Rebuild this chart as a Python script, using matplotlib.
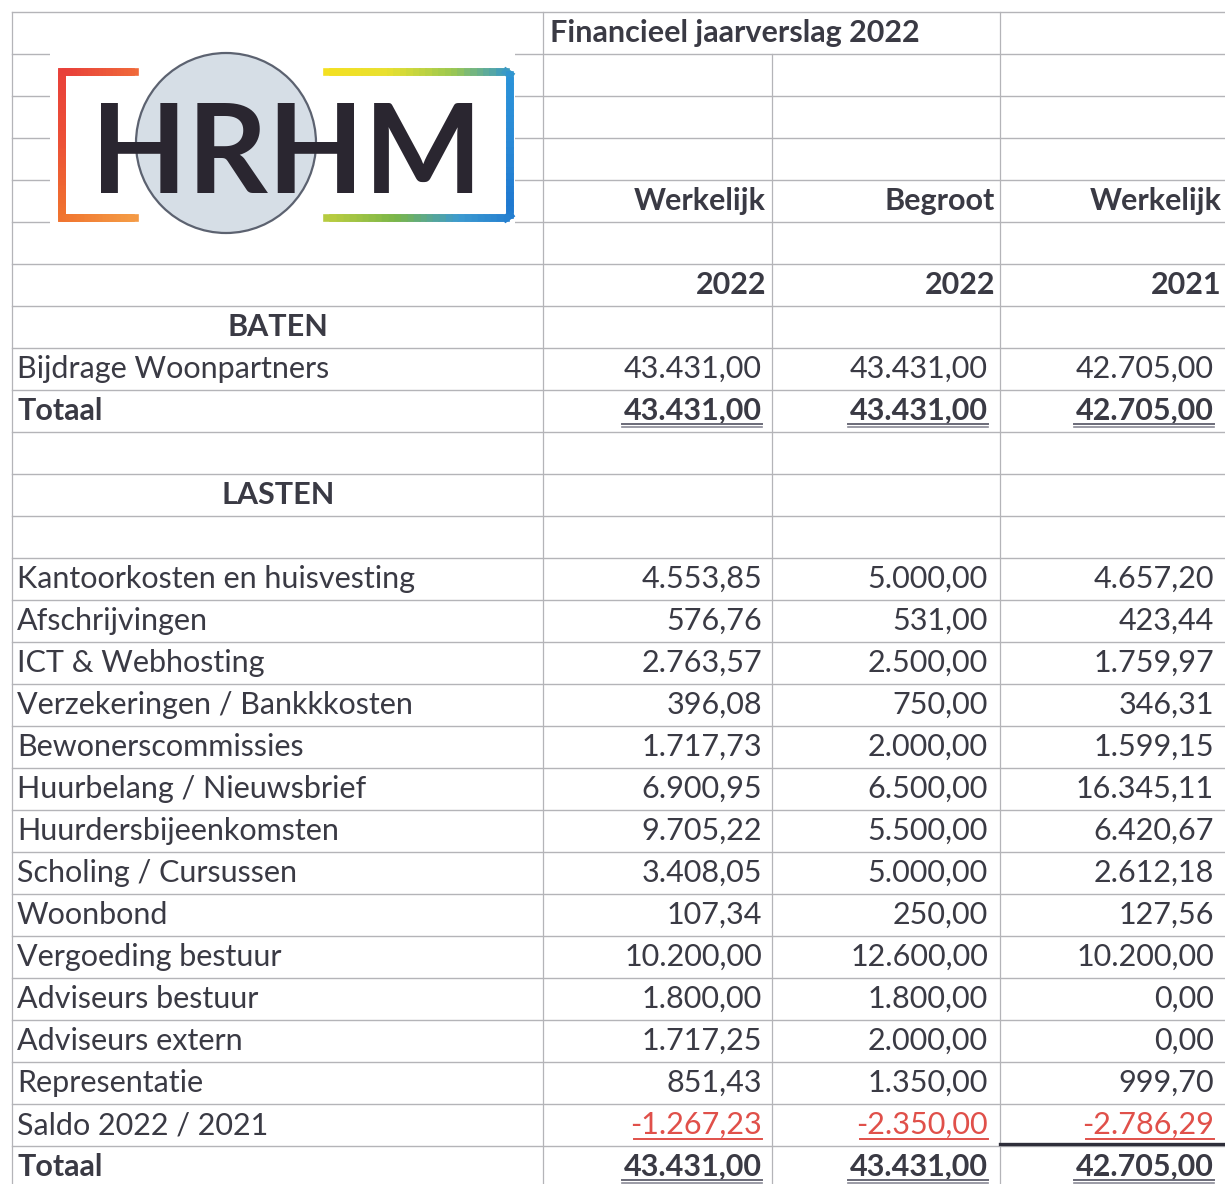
import numpy as np
import matplotlib.pyplot as plt
from matplotlib.collections import LineCollection
from matplotlib.patches import Circle, Rectangle
from matplotlib.colors import LinearSegmentedColormap

# data
title = "Financieel jaarverslag 2022"
col_kind = ["Werkelijk", "Begroot", "Werkelijk"]
col_year = ["2022", "2022", "2021"]

baten_labels = ["Bijdrage Woonpartners"]
baten_w22 = [43431.00]
baten_b22 = [43431.00]
baten_w21 = [42705.00]

lasten_labels = ["Kantoorkosten en huisvesting", "Afschrijvingen", "ICT & Webhosting",
                 "Verzekeringen / Bankkkosten", "Bewonerscommissies", "Huurbelang / Nieuwsbrief",
                 "Huurdersbijeenkomsten", "Scholing / Cursussen", "Woonbond", "Vergoeding bestuur",
                 "Adviseurs bestuur", "Adviseurs extern", "Representatie"]
lasten_w22 = [4553.85, 576.76, 2763.57, 396.08, 1717.73, 6900.95, 9705.22, 3408.05,
              107.34, 10200.00, 1800.00, 1717.25, 851.43]
lasten_b22 = [5000.00, 531.00, 2500.00, 750.00, 2000.00, 6500.00, 5500.00, 5000.00,
              250.00, 12600.00, 1800.00, 2000.00, 1350.00]
lasten_w21 = [4657.20, 423.44, 1759.97, 346.31, 1599.15, 16345.11, 6420.67, 2612.18,
              127.56, 10200.00, 0.00, 0.00, 999.70]

saldo_label = "Saldo 2022 / 2021"
saldo = [-1267.23, -2350.00, -2786.29]
totaal = [43431.00, 43431.00, 42705.00]


def fmt(v):
    s = f"{v:,.2f}"
    return s.replace(",", "X").replace(".", ",").replace("X", ".")


W, H = 1225, 1184
ROW_H = 42
TOP = 12
INK = "#3a3a44"
RED = "#e0504a"
GRID = "#b4b4b8"
FONT = "Lato"
FS = 22

def rowy(i):
    return TOP + ROW_H * i + ROW_H / 2

fig = plt.figure(figsize=(W / 100, H / 100), dpi=100)
ax = fig.add_axes([0, 0, 1, 1])
ax.set_xlim(0, W)
ax.set_ylim(H, 0)
ax.axis("off")

# grid
n_lines = 28
for k in range(n_lines):
    y = TOP + ROW_H * k
    ax.plot([12, W], [y, y], color=GRID, lw=1.0, zorder=1)
xl = [12, 543, 772, 1000]
for x in xl:
    y0 = TOP + ROW_H if x == 772 else TOP
    ax.plot([x, x], [y0, H], color=GRID, lw=0.9, zorder=1)

# logo
ax.add_patch(Rectangle((50, 44), 465, 196, facecolor="white", edgecolor="none", zorder=2))
ax.add_patch(Circle((226, 143), 90, facecolor="#d6dee6", edgecolor="#5c6270", lw=1.6, zorder=3))

def grad_line(pts, cols, n=80):
    pts = np.asarray(pts, float)
    t = np.linspace(0, 1, n + 1)
    seg_len = np.r_[0, np.cumsum(np.hypot(*np.diff(pts, axis=0).T))]
    seg_len /= seg_len[-1]
    xs = np.interp(t, seg_len, pts[:, 0])
    ys = np.interp(t, seg_len, pts[:, 1])
    segs = np.stack([np.c_[xs[:-1], ys[:-1]], np.c_[xs[1:], ys[1:]]], axis=1)
    cmap = LinearSegmentedColormap.from_list("g", cols)
    lc = LineCollection(segs, colors=cmap((t[:-1] + t[1:]) / 2), lw=5.5,
                        capstyle="projecting", joinstyle="miter", zorder=4)
    ax.add_collection(lc)

grad_line([(135, 72), (62, 72), (62, 218), (135, 218)],
          ["#f06a3a", "#e8403a", "#ec5036", "#f0722e", "#f49a44"])
grad_line([(327, 72), (510, 72), (510, 218), (327, 218)],
          ["#f4e020", "#e8e030", "#9cc850", "#2a92d8", "#2a8ad6", "#1e78d0", "#3c9ad0", "#7ab648", "#b8cc40"])

ax.text(287, 193, "HRHM", fontsize=90, family=FONT, fontweight="bold", color="#2a2630",
        ha="center", va="baseline", zorder=5)

# header
ax.text(550, rowy(0), title, fontsize=FS, family=FONT, fontweight="bold", color=INK, va="center", ha="left")
rx_head = [766, 995, 1222]
rx_val = [762, 988, 1214]
for j in range(3):
    ax.text(rx_head[j], rowy(4), col_kind[j], fontsize=FS, family=FONT, fontweight="bold",
            color=INK, va="center", ha="right")
    ax.text(rx_head[j], rowy(6), col_year[j], fontsize=FS, family=FONT, fontweight="bold",
            color=INK, va="center", ha="right")

ax.text(278, rowy(7), "BATEN", fontsize=FS, family=FONT, fontweight="bold", color=INK, va="center", ha="center")
ax.text(278, rowy(11), "LASTEN", fontsize=FS, family=FONT, fontweight="bold", color=INK, va="center", ha="center")


def value_row(i, label, vals, bold=False, color=INK, under=None):
    w = "bold" if bold else "normal"
    ax.text(17, rowy(i), label, fontsize=FS, family=FONT, fontweight=w, color=INK, va="center", ha="left")
    for j, v in enumerate(vals):
        ax.text(rx_val[j], rowy(i), fmt(v), fontsize=FS, family=FONT, fontweight=w,
                color=color, va="center", ha="right")
        if under:
            x1 = rx_val[j]
            x0 = x1 - (140 if abs(v) >= 10000 else 128)
            for dy, c, lw in under:
                ax.plot([x0, x1], [rowy(i) + dy, rowy(i) + dy], color=c, lw=lw, zorder=3)


value_row(8, baten_labels[0], [baten_w22[0], baten_b22[0], baten_w21[0]])
dbl = [(13, "#6a6a78", 1.4), (16, "#8a8a96", 1.2)]
value_row(9, "Totaal", totaal[:2] + [baten_w21[0]], bold=True, under=dbl)

for k, lab in enumerate(lasten_labels):
    value_row(13 + k, lab, [lasten_w22[k], lasten_b22[k], lasten_w21[k]])

value_row(26, saldo_label, saldo, color=RED, under=[(14, RED, 1.4)])
ax.plot([1000, W], [rowy(26) + 19, rowy(26) + 19], color="#2e2e3a", lw=2.4, zorder=3)
value_row(27, "Totaal", totaal, bold=True, under=dbl)

fig.savefig("out.png", dpi=100, facecolor="white")
